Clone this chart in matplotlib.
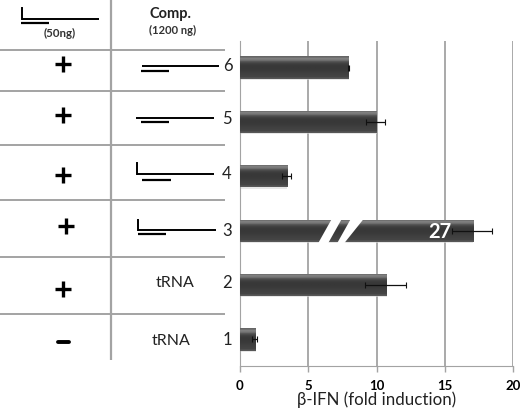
import numpy as np
import matplotlib
matplotlib.use("Agg")
import matplotlib.pyplot as plt
from matplotlib.patches import Polygon

plt.rcParams['font.family'] = ['Lato', 'DejaVu Sans']

# data
rows = [1, 2, 3, 4, 5, 6]
fold = [1.15, 10.7, 17.05, 3.45, 10.0, 7.95]
err_low = [0.27, 1.54, 1.55, 0.35, 0.74, 0.05]
err_high = [0.13, 1.47, 1.4, 0.28, 0.62, 0.05]
ticks = [0, 5, 10, 15, 20]
signs = ['-', '+', '+', '+', '+', '+']

W = 520
H = 409
GRID = '#a3a3a3'

fig = plt.figure(figsize=(W / 100, H / 100), dpi=100)

# chart area, pixel box
left, right, top, bottom = 239.7, 513.3, 41, 366
ax = fig.add_axes([left / W, 1 - bottom / H, (right - left) / W, (bottom - top) / H])
ax.set_yticks([])
ax.set_xticks(ticks)
ax.set_xticklabels(ticks, fontsize=9.5, fontweight='bold')
ax.tick_params(axis='x', length=4, width=1, color=GRID, pad=6)
ax.xaxis.grid(True, color=GRID, lw=1.3)
ax.set_axisbelow(True)
for s in ['top', 'right']:
    ax.spines[s].set_visible(False)
ax.spines['left'].set_color(GRID)
ax.spines['bottom'].set_color(GRID)
ax.set_xlabel('β-IFN (fold induction)', fontsize=12.2, labelpad=0, color='#222222')

# bars with the shiny bevel look
shade = np.array([0.40, 0.50, 0.46, 0.32, 0.26, 0.23, 0.22, 0.22, 0.23, 0.24, 0.25, 0.26, 0.27, 0.34])[:, None]
bars = ax.barh(rows, fold, height=0.41, color='#3a3a3a', zorder=2)
for b in bars:
    x0, y0, w, h = b.get_x(), b.get_y(), b.get_width(), b.get_height()
    ax.barh(y0 + h / 2 - 0.012, w + 0.04, height=h + 0.02, color='#d8d8d8', alpha=0.6, zorder=1.5)
    im = ax.imshow(shade, cmap='gray', vmin=0, vmax=1, aspect='auto', zorder=3,
                   extent=[x0, x0 + w, y0, y0 + h], interpolation='bilinear')
    im.set_clip_path(b)
ax.set_xlim(0, 20)
ax.set_ylim(0.51, 6.49)

ax.errorbar(fold, rows, xerr=[err_low, err_high], fmt='none', ecolor='#111111',
            elinewidth=0.9, capsize=2.2, capthick=0.8, zorder=4)

# overlay in pixel coordinates for the table and the strand cartoons
ov = fig.add_axes([0, 0, 1, 1], zorder=5)
ov.set_xlim(0, W)
ov.set_ylim(H, 0)
ov.axis('off')

# axis break on the 27 bar
bar3_top, bar3_bot = 218.5, 243.5
for bot0, bot1, top0, top1 in [(318, 328, 332, 342), (337, 344, 351, 364)]:
    ov.add_patch(Polygon([[bot0, bar3_bot], [bot1, bar3_bot], [top1, bar3_top], [top0, bar3_top]],
                         color='white', lw=0))
ov.text(440, 231.5, '27', color='white', fontsize=14.5, fontweight='bold', ha='center', va='center')

# table lines
for y in [50, 91, 145, 200, 257, 314]:
    ov.plot([0, 225], [y, y], color=GRID, lw=1.4, solid_capstyle='butt')
ov.plot([111, 111], [0, 360], color=GRID, lw=1.6, solid_capstyle='butt')

# first column
sign_x = [63, 63, 66, 63, 63, 63]
sign_y = [342, 289, 226, 175, 115, 64]
for sx, sy, s in zip(sign_x, sign_y, signs):
    if s == '+':
        ov.plot([sx], [sy], marker='+', ms=11, mew=2.4, color='black')
    else:
        ov.plot([sx - 5.5, sx + 5.5], [sy, sy], color='black', lw=2.8, solid_capstyle='round')

# row numbers
label_y = [340, 283, 231, 174, 119, 66]
label_x = [227, 227, 227, 227, 227, 228]
for lx, ly, r in zip(label_x, label_y, rows):
    ov.text(lx, ly, str(r), fontsize=12, ha='center', va='center', color='#222222')

# strand cartoons
def strand(x0, x1, y, sx0, sx1, sy, hook=None):
    ov.plot([x0, x1], [y, y], color='black', lw=1.4, solid_capstyle='butt')
    ov.plot([sx0, sx1], [sy, sy], color='black', lw=1.6, solid_capstyle='butt')
    if hook is not None:
        ov.plot([x0, x0], [hook, y], color='black', lw=1.4, solid_capstyle='projecting')

strand(21.7, 99, 19, 21, 49, 22.7, hook=8)
strand(142, 219, 66, 141, 169, 71)
strand(136, 214, 118, 141, 169, 122)
strand(137, 214, 174, 142, 171, 180, hook=163)
strand(138, 216, 230, 138, 166, 234, hook=220)

ov.text(60, 33, '(50ng)', fontsize=8.3, fontweight='bold', ha='center', va='center', color='#333333')
ov.text(170, 14, 'Comp.', fontsize=10.5, fontweight='bold', ha='center', va='center', color='#222222')
ov.text(173, 30, '(1200 ng)', fontsize=8, fontweight='bold', ha='center', va='center', color='#333333')
ov.text(175, 283, 'tRNA', fontsize=11.5, ha='center', va='center', color='#222222')
ov.text(171, 341, 'tRNA', fontsize=11.5, ha='center', va='center', color='#222222')

fig.savefig('out.png', dpi=100)
